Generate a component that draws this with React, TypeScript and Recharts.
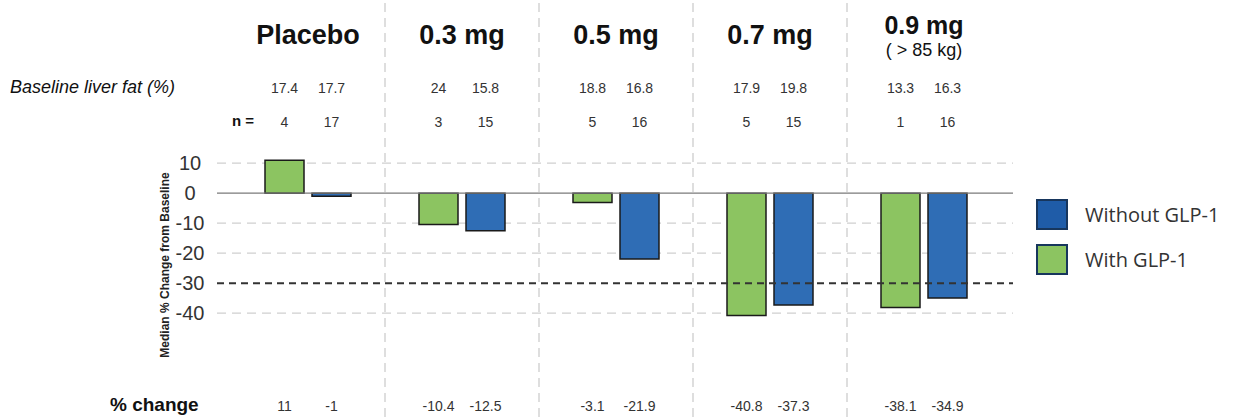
import { BarChart, Bar, XAxis, YAxis, CartesianGrid, ReferenceLine, LabelList } from "recharts";

const groups = ["Placebo", "0.3 mg", "0.5 mg", "0.7 mg", "0.9 mg"];
const subtitles = ["", "", "", "", "( > 85 kg)"];
const withGlp1 = [11, -10.4, -3.1, -40.8, -38.1];
const withoutGlp1 = [-1, -12.5, -21.9, -37.3, -34.9];
const baselineWith = [17.4, 24, 18.8, 17.9, 13.3];
const baselineWithout = [17.7, 15.8, 16.8, 19.8, 16.3];
const nWith = [4, 3, 5, 5, 1];
const nWithout = [17, 15, 16, 15, 16];
const yTicks = [10, 0, -10, -20, -30, -40];
const gridValues = [10, -10, -20, -40];
const yDomain: [number, number] = [-74.6, 64.4];

const data = groups.map((g, i) => ({
  group: g,
  withGlp1: withGlp1[i],
  withoutGlp1: withoutGlp1[i],
  baseWith: baselineWith[i],
  baseWithout: baselineWithout[i],
  nWith: nWith[i],
  nWithout: nWithout[i],
}));

const GREEN = "#8cc461";
const BLUE = "#2f6db5";
const FONT = "'Liberation Sans', Arial, sans-serif";
const BAR_GAP = 8;

// text row pinned at a fixed y, centred on each bar
const row = (y: number) => (p: any) => (
  <text
    x={Number(p.x) + Number(p.width) / 2}
    y={y}
    textAnchor="middle"
    dominantBaseline="central"
    fontFamily={FONT}
    fontSize={14}
    fill="#333"
  >
    {p.value}
  </text>
);

// group title, centred between the two bars of the group (drawn from the green bar)
const Header = (p: any) => {
  const cx = Number(p.x) + Number(p.width) + BAR_GAP / 2;
  const sub = subtitles[p.index];
  return (
    <g>
      <text x={cx} y={sub ? 34 : 44} textAnchor="middle" fontFamily={FONT} fontWeight="bold" fontSize={sub ? 25 : 27} fill="#111">
        {p.value}
      </text>
      {sub ? (
        <text x={cx} y={56} textAnchor="middle" fontFamily={FONT} fontSize={18} fill="#111">
          {sub}
        </text>
      ) : null}
    </g>
  );
};

const YTick = (p: any) => (
  <text x={p.x - 25} y={p.y} textAnchor="middle" dominantBaseline="central" fontFamily={FONT} fontSize={20} fill="#333">
    {p.payload.value}
  </text>
);

// grid rows only at the light dashed values (0 and -30 are drawn separately)
const gridRows = (props: any) => {
  const s = props?.yAxis?.scale;
  if (typeof s === "function") return gridValues.map((v) => s(v));
  if (s && typeof s.map === "function") return gridValues.map((v) => s.map(v));
  const { top, height } = props.offset;
  return gridValues.map((v) => top + ((yDomain[1] - v) / (yDomain[1] - yDomain[0])) * height);
};

const legendItems = [
  { label: "Without GLP-1", color: "#1f5ca8", top: 199 },
  { label: "With GLP-1", color: GREEN, top: 244 },
];

export default function App() {
  return (
    <div style={{ position: "absolute", left: 0, top: 0, width: 1233, height: 417, background: "#fff", fontFamily: FONT }}>
      <BarChart
        width={1233}
        height={417}
        data={data}
        margin={{ top: 0, right: 220, bottom: 0, left: 157 }}
        barSize={39}
        barGap={BAR_GAP}
      >
        <CartesianGrid
          vertical={false}
          horizontalCoordinatesGenerator={gridRows}
          stroke="#cfcfcf"
          strokeDasharray="9 6"
          strokeWidth={1.2}
        />
        <XAxis dataKey="group" hide padding={{ left: 14, right: 12 }} />
        <YAxis
          width={60}
          domain={yDomain}
          ticks={yTicks}
          allowDataOverflow
          axisLine={false}
          tickLine={false}
          tickSize={0}
          tick={<YTick />}
        />
        {groups.slice(1).map((g) => (
          <ReferenceLine key={g} x={g} position="start" stroke="#c8c8c8" strokeDasharray="9 6" strokeWidth={1.2} />
        ))}
        <ReferenceLine y={0} stroke="#7a7a7a" strokeWidth={1.2} />
        <Bar dataKey="withGlp1" fill={GREEN} stroke="#1a1a1a" strokeWidth={1.5} isAnimationActive={false}>
          <LabelList dataKey="group" content={Header} />
          <LabelList dataKey="baseWith" content={row(88)} />
          <LabelList dataKey="nWith" content={row(122)} />
          <LabelList dataKey="withGlp1" content={row(406)} />
        </Bar>
        <Bar dataKey="withoutGlp1" fill={BLUE} stroke="#1a1a1a" strokeWidth={1.5} isAnimationActive={false}>
          <LabelList dataKey="baseWithout" content={row(88)} />
          <LabelList dataKey="nWithout" content={row(122)} />
          <LabelList dataKey="withoutGlp1" content={row(406)} />
        </Bar>
        <ReferenceLine y={-30} stroke="#333" strokeDasharray="7 5" strokeWidth={2} />
      </BarChart>

      <div style={{ position: "absolute", left: 10, top: 77, fontSize: 18, fontStyle: "italic", color: "#111" }}>
        Baseline liver fat (%)
      </div>
      <div style={{ position: "absolute", left: 232, top: 112, fontSize: 15, fontWeight: "bold", color: "#111" }}>n =</div>
      <div style={{ position: "absolute", left: 110, top: 394, fontSize: 19, fontWeight: "bold", color: "#111" }}>% change</div>
      <div
        style={{
          position: "absolute",
          left: 165,
          top: 265,
          transform: "translate(-50%, -50%) rotate(-90deg)",
          fontSize: 12,
          fontWeight: "bold",
          color: "#222",
          whiteSpace: "nowrap",
        }}
      >
        Median % Change from Baseline
      </div>

      {legendItems.map((it) => (
        <div key={it.label} style={{ position: "absolute", left: 1036, top: it.top, display: "flex", alignItems: "center" }}>
          <div style={{ width: 28, height: 27, background: it.color, border: "2px solid #17365d" }} />
          <span style={{ marginLeft: 17, fontFamily: "'Open Sans', sans-serif", fontSize: 20, color: "#333" }}>{it.label}</span>
        </div>
      ))}
    </div>
  );
}
